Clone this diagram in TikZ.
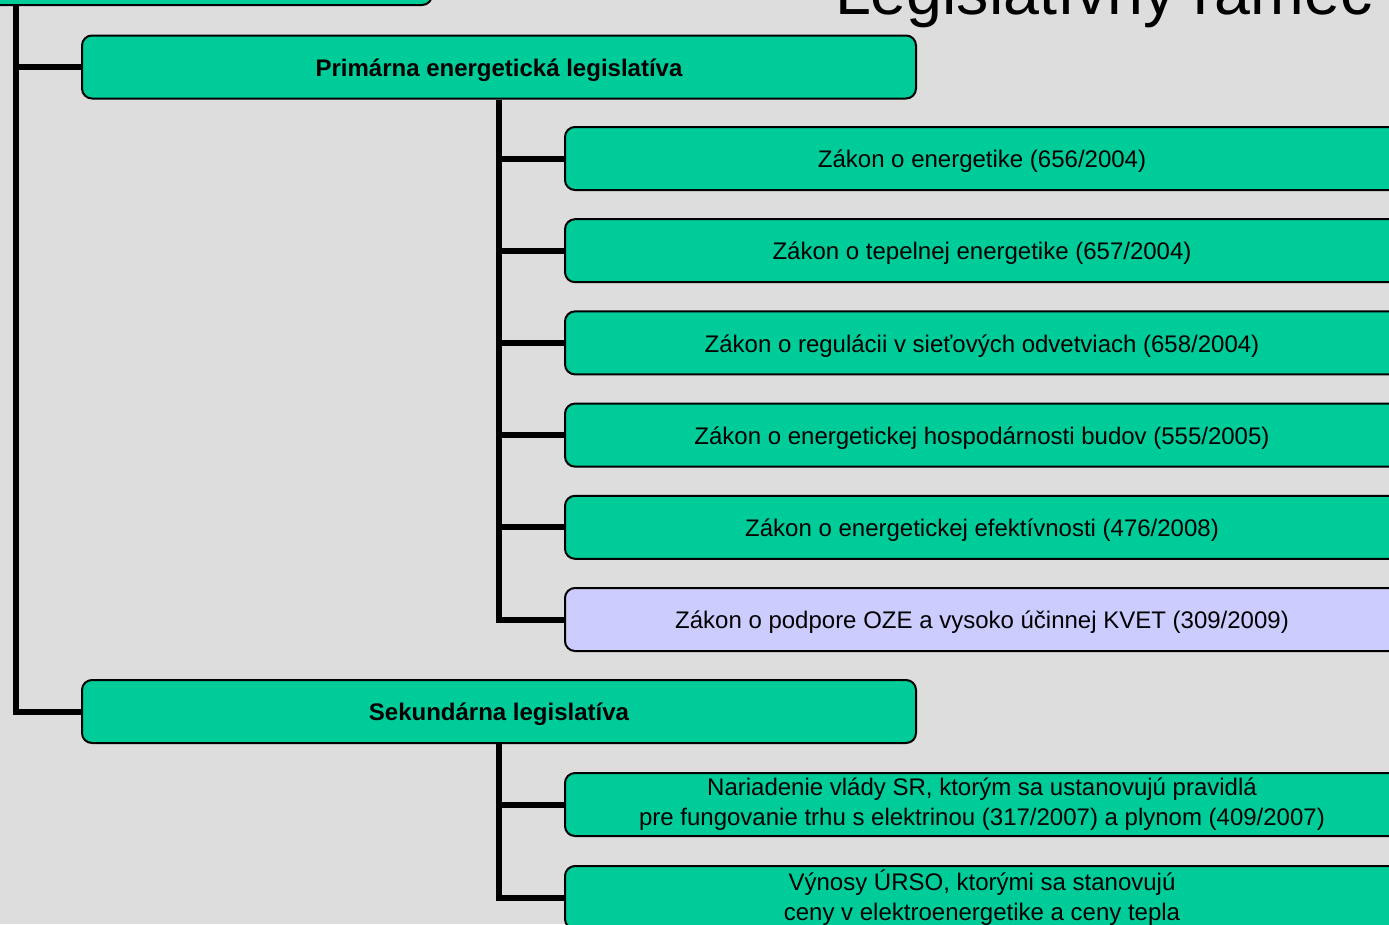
\documentclass[tikz,border=0pt]{standalone}
\usepackage{fontspec}
\setmainfont{Liberation Sans}
\definecolor{boxgreen}{HTML}{00CC99}
\definecolor{boxlav}{HTML}{CCCCFF}
\definecolor{bgcol}{HTML}{DDDDDD}
\begin{document}
\begin{tikzpicture}[x=1pt,y=-1pt,
  box/.style={draw=black, line width=2pt, rounded corners=10pt, fill=boxgreen,
    minimum width=834pt, minimum height=63pt, inner sep=0pt, align=center,
    font=\fontsize{24}{30}\selectfont},
  onebox/.style={box, text height=22pt, text depth=3.5pt},
  boldbox/.style={onebox, font=\fontsize{24}{30}\selectfont\bfseries},
  conn/.style={line width=6pt, draw=black}]
\useasboundingbox (0,0) rectangle (1389,924);
\fill[bgcol] (0,0) rectangle (1389,924);
\clip (0,0) rectangle (1389,924);
% title
\node[anchor=base east, inner sep=0pt, font=\fontsize{64.5}{76}\selectfont] (title) at (1373,14) {Legislatívny rámec};
% root (cropped)
\node[box, minimum width=500pt, minimum height=82pt] (root) at (182,-36) {};
% level 1
\node[boldbox] (prim) at (499,67) {Primárna energetická legislatíva};
\node[boldbox] (sek) at (499,711.5) {Sekundárna legislatíva};
% primary children
\node[onebox] (c1) at (982,158.5) {Zákon o energetike (656/2004)};
\node[onebox] (c2) at (982,250.7) {Zákon o tepelnej energetike (657/2004)};
\node[onebox] (c3) at (982,342.9) {Zákon o regulácii v sieťových odvetviach (658/2004)};
\node[onebox] (c4) at (982,435.1) {Zákon o energetickej hospodárnosti budov (555/2005)};
\node[onebox] (c5) at (982,527.3) {Zákon o energetickej efektívnosti (476/2008)};
\node[onebox, fill=boxlav] (c6) at (982,619.5) {Zákon o podpore OZE a vysoko účinnej KVET (309/2009)};
% secondary children
\node[box] (s1) at (982,804.5) {Nariadenie vlády SR, ktorým sa ustanovujú pravidlá\\pre fungovanie trhu s elektrinou (317/2007) a plynom (409/2007)};
\node[box] (s2) at (982,897.5) {Výnosy ÚRSO, ktorými sa stanovujú\\ceny v elektroenergetike a ceny tepla};
% connectors
\coordinate (rootfoot) at (16,5);
\draw[conn] (rootfoot) |- (sek.west);
\draw[conn] (prim.west) -- (prim.west -| rootfoot);
\draw[conn] (prim.south) |- (c6.west);
\foreach \n in {c1,c2,c3,c4,c5}{
  \draw[conn] (\n.west) -- (\n.west -| prim.south);
}
\draw[conn] (sek.south) |- (s2.west);
\draw[conn] (s1.west) -- (s1.west -| sek.south);
\end{tikzpicture}
\end{document}
